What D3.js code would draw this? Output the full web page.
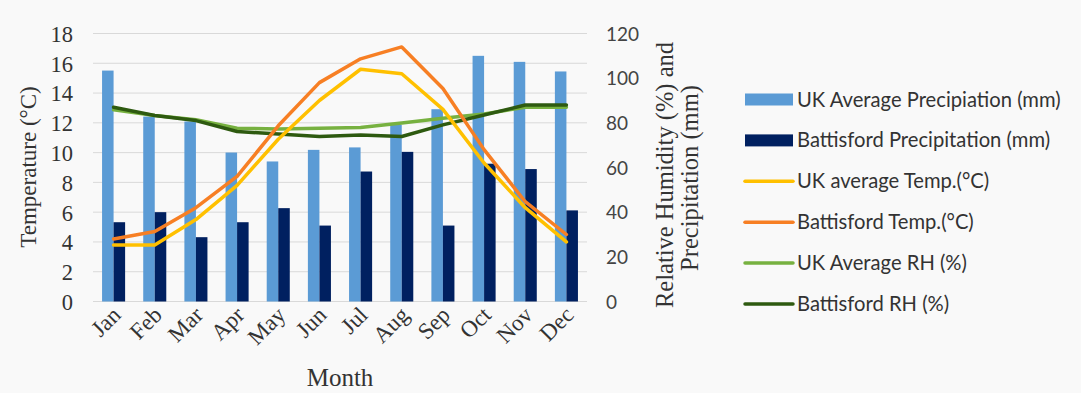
<!DOCTYPE html>
<html><head><meta charset="utf-8">
<script src="https://cdn.jsdelivr.net/npm/d3@7"></script>
<style>html,body{margin:0;padding:0;background:#f9f9f9;}svg{display:block;}</style>
</head><body><svg id="c" width="1081" height="393"></svg>
<script>
const months = ["Jan","Feb","Mar","Apr","May","Jun","Jul","Aug","Sep","Oct","Nov","Dec"];
const ukPrecip = [103.4, 82.8, 80.6, 66.7, 62.7, 67.9, 69.0, 79.1, 86.1, 110.0, 107.3, 103.0];
const batPrecip = [35.5, 40.0, 28.8, 35.5, 41.8, 34.0, 58.2, 67.0, 34.0, 61.7, 59.3, 40.8];
const ukTemp = [3.8, 3.8, 5.5, 7.8, 10.9, 13.5, 15.6, 15.3, 12.9, 9.3, 6.3, 4.0];
const batTemp = [4.2, 4.7, 6.3, 8.4, 11.8, 14.7, 16.3, 17.1, 14.3, 10.2, 6.7, 4.5];
const ukRH = [85.8, 83.3, 81.4, 77.6, 77.2, 77.6, 77.9, 79.9, 82.1, 84.0, 87.0, 87.0];
const batRH = [87.0, 83.3, 81.0, 76.1, 75.0, 73.9, 74.6, 73.9, 79.1, 83.5, 88.0, 88.0];
const tempTicks = [0,2,4,6,8,10,12,14,16,18];
const rightTicks = [0,20,40,60,80,100,120];
const legendLabels = ["UK Average Precipiation (mm)","Battisford Precipitation (mm)","UK average Temp.(°C)","Battisford Temp.(°C)","UK Average RH (%)","Battisford RH (%)"];

const col = {ukP:"#5b9bd5", batP:"#002060", ukT:"#ffc000", batT:"#f77f24", ukRH:"#77b140", batRH:"#2e5a10"};

const svg = d3.select("#c");
const L = 93, R = 587, T = 33.5, B = 301.5;
const serif = "'Liberation Serif','Times New Roman',serif";
const sans = "Lato,'Open Sans',sans-serif";

const x = d3.scaleBand().domain(months).range([L, R]).paddingInner(0.44).paddingOuter(0.22);
const xs = d3.scaleBand().domain(["uk","bat"]).range([0, x.bandwidth()]);
const yL = d3.scaleLinear().domain([0,18]).range([B, T]);
const yR = d3.scaleLinear().domain([0,120]).range([B, T]);

// gridlines
svg.append("g").selectAll("line").data(tempTicks).join("line")
  .attr("x1", L).attr("x2", R).attr("y1", d=>yL(d)).attr("y2", d=>yL(d))
  .attr("stroke", "#d9d9d9").attr("stroke-width", 1);

// bars
const bars = svg.append("g");
months.forEach((m,i)=>{
  bars.append("rect").attr("x", x(m)+xs("uk")).attr("width", xs.bandwidth())
    .attr("y", yR(ukPrecip[i])).attr("height", yR(0)-yR(ukPrecip[i])).attr("fill", col.ukP);
  bars.append("rect").attr("x", x(m)+xs("bat")).attr("width", xs.bandwidth())
    .attr("y", yR(batPrecip[i])).attr("height", yR(0)-yR(batPrecip[i])).attr("fill", col.batP);
});

const cx = m => x(m) + x.bandwidth()/2;
function drawLine(vals, scale, color){
  const line = d3.line().x((d,i)=>cx(months[i])).y(d=>scale(d));
  svg.append("path").datum(vals).attr("d", line).attr("fill","none")
    .attr("stroke", color).attr("stroke-width", 3.5).attr("stroke-linejoin","round").attr("stroke-linecap","round");
}
drawLine(ukRH, yR, col.ukRH);
drawLine(batRH, yR, col.batRH);
drawLine(ukTemp, yL, col.ukT);
drawLine(batTemp, yL, col.batT);

// left axis
const axL = svg.append("g").attr("transform", `translate(${L-20},0)`)
  .call(d3.axisLeft(yL).tickValues(tempTicks).tickSize(0).tickPadding(0));
axL.select(".domain").remove();
axL.selectAll("text").attr("font-family", serif).attr("font-size", 22.5).attr("fill", "#333").attr("dy","0.35em");

// right axis
const axR = svg.append("g").attr("transform", `translate(${R+19},0)`)
  .call(d3.axisRight(yR).tickValues(rightTicks).tickSize(0).tickPadding(0));
axR.select(".domain").remove();
axR.selectAll("text").attr("font-family", sans).attr("font-size", 19).attr("fill", "#444").attr("dy","0.35em");

// x axis labels
const axX = svg.append("g").attr("transform", `translate(0,${B+12})`)
  .call(d3.axisBottom(x).tickSize(0).tickPadding(0));
axX.select(".domain").remove();
axX.selectAll("text").attr("font-family", serif).attr("font-size", 23).attr("fill", "#333")
  .attr("text-anchor","end").attr("x", 0).attr("y", 0).attr("dy","0.35em").attr("dx", 4)
  .attr("transform","rotate(-45)");

// axis titles
svg.append("text").attr("transform","translate(36,167) rotate(-90)").attr("text-anchor","middle")
  .attr("font-family", serif).attr("font-size", 23).attr("fill","#333").text("Temperature (°C)");
svg.append("text").attr("transform","translate(673,175) rotate(-90)").attr("text-anchor","middle")
  .attr("font-family", serif).attr("font-size", 24.5).attr("fill","#333").text("Relative Humidity (%) and");
svg.append("text").attr("transform","translate(698,178) rotate(-90)").attr("text-anchor","middle")
  .attr("font-family", serif).attr("font-size", 24.5).attr("fill","#333").text("Precipitation (mm)");
svg.append("text").attr("x", 340).attr("y", 386).attr("text-anchor","middle")
  .attr("font-family", serif).attr("font-size", 25).attr("fill","#333").text("Month");

// legend
const legCols = [col.ukP, col.batP, col.ukT, col.batT, col.ukRH, col.batRH];
const lg = svg.append("g");
legendLabels.forEach((lab,i)=>{
  const y = 99.5 + i*40.9;
  if (i < 2) {
    lg.append("rect").attr("x", 745).attr("y", y-6).attr("width", 48).attr("height", 12).attr("fill", legCols[i]);
  } else {
    lg.append("line").attr("x1", 745).attr("x2", 793).attr("y1", y).attr("y2", y)
      .attr("stroke", legCols[i]).attr("stroke-width", 3.5).attr("stroke-linecap","round");
  }
  lg.append("text").attr("x", 797).attr("y", y).attr("dy","0.35em")
    .attr("font-family", sans).attr("font-size", 20.2).attr("fill","#333").text(lab);
});
</script></body></html>
